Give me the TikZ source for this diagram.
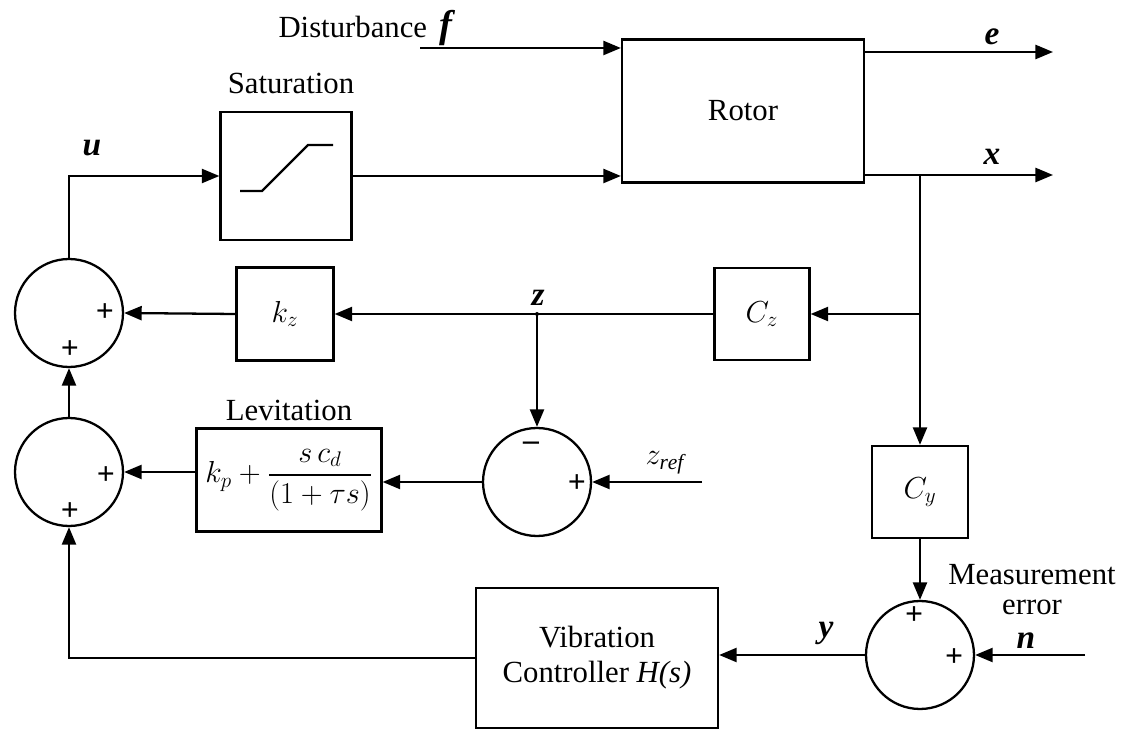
\documentclass[tikz,border=0pt]{standalone}
\usepackage{amsmath}
\usepackage{fontspec}
\setmainfont{Liberation Serif}
\usetikzlibrary{positioning,arrows.meta}

\begin{document}
\begin{tikzpicture}[x=0.02cm,y=-0.02cm,
    font=\fontsize{17.5}{20}\selectfont,
    blk/.style={draw,line width=1.3pt,align=center,inner sep=2pt},
    sum/.style={draw,line width=1.3pt,circle,minimum size=2.16cm,inner sep=0pt},
    sign/.style={font=\fontsize{18}{18}\selectfont\bfseries,inner sep=0pt},
    sig/.style={font=\fontsize{19}{20}\selectfont\bfseries\itshape,inner sep=0pt},
    arrow/.style={-{Triangle[length=10pt,width=8pt]},line width=1.3pt}
  ]
    \useasboundingbox (0,0) rectangle (1132,732);

    \node[blk,minimum width=4.84cm,minimum height=2.86cm] (rotor) at (743,111) {Rotor};
    \node[blk,minimum width=2.62cm,minimum height=2.56cm] (sat) at (286,176) {};
    \node[blk,minimum width=1.94cm,minimum height=1.86cm] (kz) at (285,314) {$k_z$};
    \node[blk,minimum width=1.90cm,minimum height=1.84cm] (cz) at (762,314) {$C_z$};
    \node[blk,minimum width=1.92cm,minimum height=1.84cm] (cy) at (920,492) {$C_y$};
    \node[blk,minimum width=3.70cm,minimum height=2.06cm] (lev) at (289,480) {$k_p + \dfrac{s\,c_d}{(1+\tau s)}$};
    \node[blk,minimum width=4.84cm,minimum height=2.80cm] (vh) at (597,658) {Vibration\\Controller \textit{H(s)}};
    \node[sum] (s1) at (69,313) {};
    \node[sum] (s2) at (69,472) {};
    \node[sum] (sm) at (537,482) {};
    \node[sum] (s3) at (920,655) {};

    % signs on the summing junctions
    \node[sign] (p1a) at (105,313) {+};
    \node[sign] (p1b) at (70,350) {+};
    \node[sign] (p2a) at (106,476) {+};
    \node[sign] (p2b) at (70,512) {+};
    \node[sign] (pma) at (531,446) {--};
    \node[sign] (pmb) at (577,484) {+};
    \node[sign] (p3a) at (914,616) {+};
    \node[sign] (p3b) at (954,658) {+};

    % labels
    \node (dist) at (367,28) {Disturbance\hspace{7pt}\textbf{\textit{\fontsize{22}{20}\selectfont f}}};
    \node (satlbl) at (291,83) {Saturation};
    \node[above=0pt of lev] (levlbl) {Levitation};
    \node[align=center,inner sep=0pt,font=\fontsize{17.5}{17}\selectfont] (meas) at (1032,590) {Measurement\\error};
    \node[sig] (ulbl) at (92,148) {u};
    \node[sig] (elbl) at (992,37) {e};
    \node[sig] (xlbl) at (992,157) {x};
    \node[sig] (zlbl) at (538,298) {z};
    \node[sig] (ylbl) at (826,633) {y};
    \node[sig] (nlbl) at (1026,641) {n};
    \node (zreflbl) at (665,463) {$z_{\mathit{ref}}$};

    \coordinate (fin) at (420,48);
    \coordinate (eout) at (1053,52);
    \coordinate (xout) at (1053,175);
    \coordinate (xj) at (920,175);
    \coordinate (zj) at (537,314);
    \coordinate (zin) at (702,482);
    \coordinate (nin) at (1085,655);

    % saturation curve
    \draw[line width=1.3pt] (240,191) -- (262,191) -- (308,145) -- (333,145);

    \draw[arrow] (fin) -- (fin -| rotor.west);
    \draw[arrow] (sat.east) -- (sat.east -| rotor.west);
    \draw[arrow] (rotor.east |- eout) -- (eout);
    \draw[arrow] (rotor.east |- xout) -- (xout);
    \draw[arrow] (xj) |- (cz.east);
    \draw[arrow] (xj) -- (cy.north);
    \draw[arrow] (cz.west) -- (kz.east);
    \fill (zj) circle (2);
    \draw[arrow] (zj) -- (sm.north);
    \draw[arrow] (kz.west) -- (s1.east);
    \draw[arrow] (s1.north) |- (sat.west);
    \draw[arrow] (s2.north) -- (s1.south);
    \draw[arrow] (sm.west) -- (sm.west -| lev.east);
    \draw[arrow] (lev.west |- s2.east) -- (s2.east);
    \draw[arrow] (zin) -- (sm.east);
    \draw[arrow] (cy.south) -- (s3.north);
    \draw[arrow] (nin) -- (s3.east);
    \draw[arrow] (s3.west) -- (s3.west -| vh.east);
    \draw[arrow] (vh.west) -| (s2.south);
\end{tikzpicture}
\end{document}
